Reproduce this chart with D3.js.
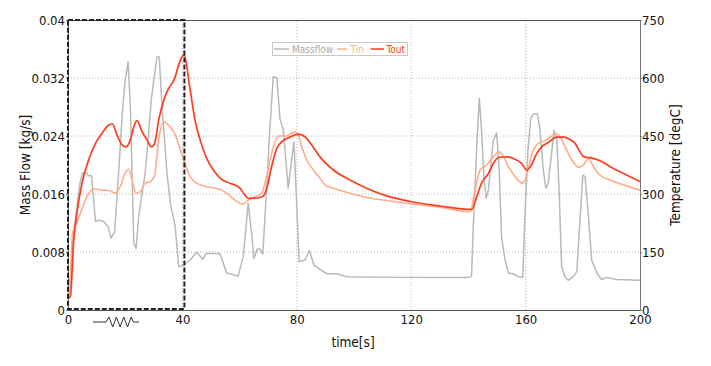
<!DOCTYPE html>
<html><head><meta charset="utf-8">
<script src="https://cdn.jsdelivr.net/npm/d3@7"></script>
<style>
html,body{margin:0;padding:0;background:#fff;}
text{font-family:"DejaVu Sans Condensed","DejaVu Sans","Liberation Sans",sans-serif;}
</style></head>
<body><svg id="c" width="711" height="366"></svg>
<script>
// ---- data ----
const xTicks = [0, 40, 80, 120, 160, 200];
const massTicks = [0, 0.008, 0.016, 0.024, 0.032, 0.04];
const massTickLabels = ["0", "0.008", "0.016", "0.024", "0.032", "0.04"];
const tempTicks = [0, 150, 300, 450, 600, 750];

const massT = [0,1,1.9,2.6,3.3,4.2,5.1,6.6,7.0,8.2,9.6,10.7,12.5,14,15.1,16.3,17.7,18.9,20,21,21.8,22.4,23,23.8,24.7,25.9,27,28.2,29.1,30.5,31.1,31.9,32.9,34.6,35.8,37.5,38.7,40,42.7,45,47.1,48.3,53.1,55.5,59.5,61.3,63,64.2,65,66.2,67.1,68.1,69.5,70.4,71.8,73,74.1,75.3,77,78.2,79,80,80.8,82.9,84.4,86,88.1,90.5,94,97.4,116,140,141.1,141.7,142.9,143.8,144.6,145.5,146.2,147,148.7,149.9,150.8,151.6,152.8,154,155.7,157.4,159,159.8,160.9,161.8,162.7,164.1,165,166.2,167.1,167.9,169.1,169.9,170.9,171.8,172.6,173.8,174.9,176.7,177.9,178.8,180,180.8,181.9,183.1,184.9,186.6,188.4,191.8,200];
const massV = [0.0015,0.005,0.0108,0.0125,0.0148,0.0175,0.0189,0.0189,0.0185,0.0186,0.0122,0.0124,0.0122,0.0115,0.0099,0.0108,0.0189,0.0267,0.0317,0.0342,0.028,0.0189,0.0092,0.0085,0.0129,0.0161,0.0189,0.0244,0.029,0.0331,0.0349,0.0349,0.028,0.0189,0.0147,0.0115,0.006,0.0061,0.0069,0.0080,0.0070,0.0078,0.0078,0.0051,0.0047,0.0074,0.0147,0.0106,0.0071,0.0084,0.0084,0.0077,0.017,0.0239,0.0322,0.032,0.0264,0.0248,0.0168,0.0207,0.0232,0.0143,0.0067,0.0069,0.0082,0.0062,0.0056,0.005,0.005,0.0046,0.0045,0.0045,0.0047,0.0115,0.0225,0.0292,0.0248,0.0179,0.0154,0.0166,0.0234,0.0244,0.0189,0.0101,0.0069,0.0051,0.005,0.0046,0.0045,0.0133,0.0225,0.0264,0.027,0.0271,0.025,0.0193,0.0168,0.0175,0.0216,0.0248,0.0237,0.0156,0.006,0.0046,0.0041,0.0046,0.0053,0.011,0.0186,0.0184,0.0133,0.0069,0.0051,0.0042,0.0045,0.0042,0.0041];

const tinT = [0,0.5,1.6,2.6,4.3,6.6,9,11.9,14.2,16.5,18.3,20,21.2,22.4,23.8,25.3,27,28.8,30.3,31.7,33.5,35.2,37.5,39.3,40.9,42.7,45,48.5,53.1,55.5,58.4,61.3,63,65.4,67.7,69.7,71.8,73.5,76.5,78.2,79.4,80.5,81.7,83.5,85.8,88.1,89.9,92.8,98.6,104.4,111.4,120.2,130,140.6,142.3,144.1,146.4,148.7,150.8,152,154,156.3,159,160.4,162.1,164.4,166.8,169.1,170.9,172,173.8,176.2,178.5,180.2,182,183.7,186,189.5,195.3,200];
const tinV = [30,45,198,215,250,293,313,310,309,303,319,354,364,336,302,306,328,332,349,440,487,478,453,414,379,345,328,319,312,302,284,274,284,293,302,354,422,450,450,457,461,453,422,388,362,341,323,315,302,291,283,274,266,254,310,362,375,396,409,401,371,345,328,349,401,431,438,450,455,450,422,388,369,375,392,371,349,336,321,310];

const toutT = [0,0.8,2,3.1,4.9,7.2,9.6,11.9,14.2,15.6,17.1,18.9,20.3,21.8,23,24.1,25.9,27.6,29.1,30.3,31.7,33.5,35.2,37.3,38.7,39.9,40.6,42.5,44.4,46.2,48.5,50.8,53.7,56.6,60.1,61.9,63,65.4,68.3,69.5,71.2,73,74.7,77.6,80.5,82.9,85.2,88.1,92.8,98.6,104.4,111.4,120.2,130,141.2,142.9,144.6,147,148.7,150.8,153.4,155.7,158.6,160.4,161.8,163.9,165.6,167.9,170.9,173.2,175.5,177.3,179,180.4,182.5,186,190.7,195.3,200];
const toutV = [30,34,181,250,328,388,431,457,478,481,453,427,422,440,474,490,461,440,422,431,491,543,573,599,634,655,660,580,491,440,392,362,338,328,315,297,289,289,295,315,371,418,435,447,455,448,427,396,362,336,315,295,280,269,260,293,328,353,379,395,396,392,379,362,372,405,422,433,447,447,441,431,409,396,394,386,366,349,332];

const seriesNames = ["Massflow", "Tin", "Tout"];
const seriesColors = ["#b9b9b9", "#ffad88", "#ff3d1e"];

// ---- chart ----
const svg = d3.select("#c");
const x = d3.scaleLinear().domain([0, 200]).range([68, 640]);
const yM = d3.scaleLinear().domain([0, 0.04]).range([310, 20]);
const yT = d3.scaleLinear().domain([0, 750]).range([310, 20]);

// grid
const grid = svg.append("g");
grid.selectAll("line.h").data(massTicks.slice(1, -1)).join("line")
  .attr("x1", x(0)).attr("x2", x(200)).attr("y1", d => yM(d)).attr("y2", d => yM(d))
  .attr("stroke", "#b8b8b8").attr("stroke-width", 1).attr("stroke-dasharray", "1,2");
grid.selectAll("line.v").data(xTicks.slice(1, -1)).join("line")
  .attr("x1", d => x(d)).attr("x2", d => x(d)).attr("y1", yM(0)).attr("y2", yM(0.04))
  .attr("stroke", "#b8b8b8").attr("stroke-width", 1).attr("stroke-dasharray", "1,2");

// frame
svg.append("line").attr("x1", x(0)).attr("x2", x(200)).attr("y1", yM(0.04)+0.5).attr("y2", yM(0.04)+0.5).attr("stroke", "#555");
svg.append("line").attr("x1", x(0)).attr("x2", x(200)).attr("y1", yM(0)+0.5).attr("y2", yM(0)+0.5).attr("stroke", "#555");
svg.append("line").attr("x1", x(200)+0.5).attr("x2", x(200)+0.5).attr("y1", yM(0.04)).attr("y2", yM(0)).attr("stroke", "#777");
svg.append("line").attr("x1", x(0)+0.5).attr("x2", x(0)+0.5).attr("y1", yM(0.04)).attr("y2", yM(0)).attr("stroke", "#777");

// axes
const fs = "13px";
const axB = svg.append("g").attr("transform", `translate(0,${yM(0)})`)
  .call(d3.axisBottom(x).tickValues(xTicks).tickSize(0).tickPadding(5).tickFormat(d3.format("d")));
const axL = svg.append("g").attr("transform", `translate(${x(0)},0)`)
  .call(d3.axisLeft(yM).tickValues(massTicks).tickSize(2).tickPadding(1).tickFormat((d, i) => massTickLabels[i]));
const axR = svg.append("g").attr("transform", `translate(${x(200)},0)`)
  .call(d3.axisRight(yT).tickValues(tempTicks).tickSize(2).tickPadding(0).tickFormat(d3.format("d")));
[axB, axL, axR].forEach(a => {
  a.select(".domain").remove();
  a.selectAll("text").attr("fill", "#111").style("font-size", fs).attr("font-family", null);
  a.selectAll("line").attr("stroke", "#777");
});

// lines
const lineM = d3.line().x(d => x(d[0])).y(d => yM(d[1]));
const lineT = d3.line().x(d => x(d[0])).y(d => yT(d[1])).curve(d3.curveMonotoneX);
const n = (a, b) => a.map((v, i) => [v, b[i]]).filter(d => d[1] !== undefined);
svg.append("path").datum(n(massT, massV)).attr("d", lineM).attr("fill", "none")
  .attr("stroke", seriesColors[0]).attr("stroke-width", 1.5).attr("stroke-linejoin", "round");
svg.append("path").datum(n(tinT, tinV)).attr("d", lineT).attr("fill", "none")
  .attr("stroke", seriesColors[1]).attr("stroke-width", 1.6);
svg.append("path").datum(n(toutT, toutV)).attr("d", lineT).attr("fill", "none")
  .attr("stroke", seriesColors[2]).attr("stroke-width", 1.7);

// dashed selection box
svg.append("rect").attr("x", x(0)).attr("y", yM(0.04)).attr("width", x(40) - x(0) + 2).attr("height", yM(0) - yM(0.04) - 1)
  .attr("fill", "none").attr("stroke", "#222").attr("stroke-width", 2).attr("stroke-dasharray", "5,2");

// resistor-like zigzag symbol
const zy = 322, za = 5;
const zx0 = x(0) + 25, zxs = x(0) + 38;
const zpts = [[zx0, zy], [zxs, zy]];
for (let k = 0; k < 7; k++) zpts.push([zxs + 3 + k * 3.7, zy + (k % 2 === 0 ? -za : za)]);
zpts.push([zxs + 3 + 7 * 3.7 - 1.5, zy]);
zpts.push([x(0) + 71, zy]);
svg.append("path").attr("d", d3.line()(zpts)).attr("fill", "none").attr("stroke", "#333").attr("stroke-width", 1);

// titles
svg.append("text").attr("x", 353).attr("y", 347).attr("text-anchor", "middle").style("font-size", "13.5px").attr("fill", "#111").text("time[s]");
svg.append("text").attr("transform", `translate(30,165) rotate(-90)`).attr("text-anchor", "middle").style("font-size", "13.5px").attr("fill", "#111").text("Mass Flow [kg/s]");
svg.append("text").attr("transform", `translate(680,165) rotate(-90)`).attr("text-anchor", "middle").style("font-size", "13.5px").attr("fill", "#111").text("Temperature [degC]");

// legend
const lg = svg.append("g");
lg.append("rect").attr("x", 272.5).attr("y", 42.5).attr("width", 135).attr("height", 13).attr("fill", "#fff").attr("stroke", "#c8c8c8");
const lgX = [[274, 289, 292], [337, 347, 350.5], [370.5, 384, 386.5]];
seriesNames.forEach((s, i) => {
  lg.append("line").attr("x1", lgX[i][0]).attr("x2", lgX[i][1]).attr("y1", 49).attr("y2", 49).attr("stroke", seriesColors[i]).attr("stroke-width", 1.5);
  lg.append("text").attr("x", lgX[i][2]).attr("y", 52.5).style("font-size", "10px").attr("fill", i === 0 ? "#aaa" : seriesColors[i]).text(s);
});
</script></body></html>
